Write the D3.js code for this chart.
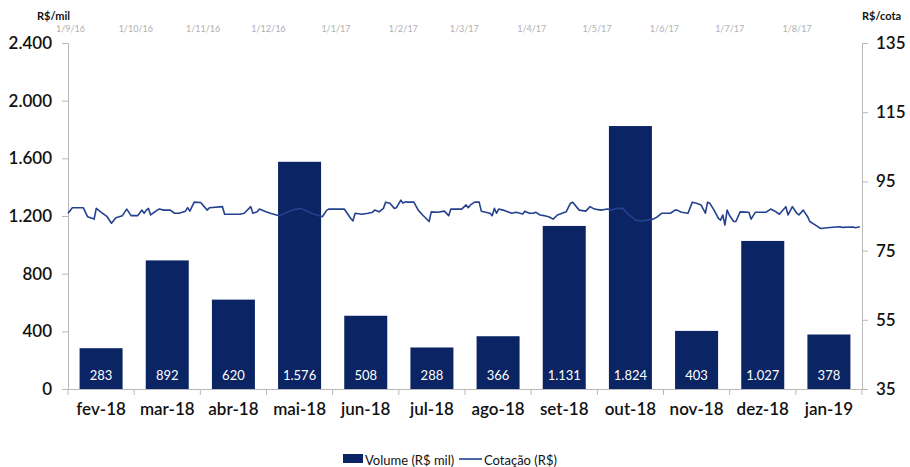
<!DOCTYPE html>
<html><head><meta charset="utf-8">
<script src="https://cdn.jsdelivr.net/npm/d3@7"></script>
<style>body{margin:0;background:#fff}svg{display:block}text{font-family:Lato,"Open Sans",sans-serif}</style>
</head><body><svg id="c" width="910" height="467"></svg>
<script>
const categories = ["fev-18","mar-18","abr-18","mai-18","jun-18","jul-18","ago-18","set-18","out-18","nov-18","dez-18","jan-19"];
const volume = [283,892,620,1576,508,288,366,1131,1824,403,1027,378];
const volumeLabels = ["283","892","620","1.576","508","288","366","1.131","1.824","403","1.027","378"];
const leftTicks = [0,400,800,1200,1600,2000,2400];
const leftTickLabels = ["0","400","800","1.200","1.600","2.000","2.400"];
const rightTicks = [35,55,75,95,115,135];
const topTickLabels = ["1/9/16","1/10/16","1/11/16","1/12/16","1/1/17","1/2/17","1/3/17","1/4/17","1/5/17","1/6/17","1/7/17","1/8/17"];
// Cotação: day offset from 1/9/16 and price
const cotacaoDias = [0,2,7,9,12,13,15,18,20,22,25,27,29,32,34,35,36,37,38,41,42,44,47,49,51,54,55,56,58,61,64,65,71,72,79,81,84,85,87,88,91,93,97,103,107,112,117,118,119,120,127,130,131,132,135,138,140,141,143,145,146,148,150,151,153,154,155,156,159,161,163,166,167,170,173,175,176,181,183,184,185,187,189,190,194,195,196,197,198,200,204,206,209,210,212,214,215,217,219,221,223,225,229,231,232,235,238,240,242,245,248,250,252,255,258,261,264,269,271,273,277,279,280,282,285,287,289,291,293,294,295,297,299,300,301,302,303,304,306,307,309,313,314,316,321,323,325,327,330,331,333,335,336,338,340,341,344,346,349,353,355,356,361,362,364];
const cotacaoValores = [85.8,87.4,87.4,84.8,84.1,87.2,86.2,84.8,82.9,84.5,85.1,87.0,85.1,85.1,86.7,85.8,86.7,87.2,85.3,86.7,87.0,86.7,86.7,85.8,85.8,86.4,87.4,86.4,89.0,88.9,86.7,87.4,87.7,85.5,85.5,85.8,87.7,85.8,86.2,87.0,86.2,85.8,85.1,86.7,87.2,85.8,84.8,85.8,86.7,87.0,87.0,84.3,83.6,85.8,85.5,85.8,86.1,86.7,86.2,87.2,89.0,88.7,87.2,87.4,89.6,88.7,89.1,89.0,89.0,86.7,85.3,83.4,86.2,86.1,86.4,85.1,87.0,87.0,88.2,87.4,88.2,89.0,89.0,86.4,85.8,85.1,87.2,85.8,87.0,86.7,85.8,86.1,85.6,86.4,85.8,85.8,86.1,85.3,85.1,84.8,84.1,85.3,86.2,88.7,89.0,86.7,86.4,87.7,87.0,86.7,87.0,86.7,87.2,87.2,85.3,83.8,83.6,84.1,84.8,85.8,85.8,86.7,86.7,86.1,85.8,89.0,88.7,88.2,85.8,89.0,88.7,86.7,84.3,83.8,85.3,82.4,86.7,85.3,83.4,83.4,86.2,86.1,84.1,86.1,86.1,87.0,86.4,85.5,87.7,85.3,87.7,85.8,85.3,86.7,84.8,83.4,82.2,81.4,81.6,81.8,81.9,81.7,81.8,81.6,81.9];

const svg = d3.select("#c");
const L = 68, R = 862, T = 43, B = 389;
const barColor = "#0b2463", lineColor = "#24418f", axisColor = "#b8b8b8";

const x = d3.scaleBand().domain(categories).range([L, R]).paddingInner(0.35).paddingOuter(0.175);
const xb = d3.scaleBand().domain(categories).range([L, R]);
const yL = d3.scaleLinear().domain([0, 2400]).range([B, T]);
const yR = d3.scaleLinear().domain([35, 135]).range([B, T]);
const start = new Date(2016, 8, 1), end = new Date(2017, 8, 1);
const xt = d3.scaleTime().domain([start, end]).range([L, R]);

// bars
svg.append("g").selectAll("rect").data(volume).join("rect")
  .attr("x", (d, i) => x(categories[i])).attr("width", x.bandwidth())
  .attr("y", d => yL(d)).attr("height", d => B - yL(d)).attr("fill", barColor);

// bar labels
svg.append("g").selectAll("text").data(volumeLabels).join("text")
  .attr("x", (d, i) => x(categories[i]) + x.bandwidth() / 2).attr("y", B - 9)
  .attr("text-anchor", "middle").attr("fill", "#fff").attr("font-size", 13).text(d => d);

// left axis
const gl = svg.append("g").attr("transform", `translate(${L},0)`)
  .call(d3.axisLeft(yL).tickValues(leftTicks).tickFormat((d, i) => leftTickLabels[i]).tickSize(6).tickPadding(10));
gl.select(".domain").attr("stroke", axisColor);
gl.selectAll(".tick line").attr("stroke", axisColor);
gl.selectAll("text").attr("font-size", 17).attr("font-weight", 600).attr("fill", "#111").style("font-family", "Lato");

// right axis
const gr = svg.append("g").attr("transform", `translate(${R},0)`)
  .call(d3.axisRight(yR).tickValues(rightTicks).tickSize(6).tickPadding(8));
gr.select(".domain").attr("stroke", axisColor);
gr.selectAll(".tick line").attr("stroke", axisColor);
gr.selectAll("text").attr("font-size", 17).attr("font-weight", 600).attr("fill", "#111").style("font-family", "Lato");

// bottom axis
const gb = svg.append("g").attr("transform", `translate(0,${B})`)
  .call(d3.axisBottom(xb).tickSize(0).tickPadding(14));
gb.select(".domain").attr("stroke", axisColor);
gb.selectAll("text").attr("font-size", 17).attr("font-weight", 600).attr("fill", "#111").style("font-family", "Lato");
gb.append("g").selectAll("line").data(categories.concat([null])).join("line")
  .attr("x1", (d, i) => L + i * xb.step()).attr("x2", (d, i) => L + i * xb.step())
  .attr("y1", 0).attr("y2", 6).attr("stroke", axisColor);

// top date axis
const topTicks = d3.timeMonth.range(start, end);
const gt = svg.append("g").attr("transform", `translate(0,${T})`)
  .call(d3.axisTop(xt).tickValues(topTicks).tickFormat((d, i) => topTickLabels[i]).tickSize(0).tickPadding(11));
gt.select(".domain").remove();
gt.selectAll("text").attr("font-size", 9).attr("fill", "#b0b0b0").attr("dx", 2);

// line
const pts = cotacaoDias.map((d, i) => [d3.timeDay.offset(start, d), cotacaoValores[i]]);
svg.append("path").datum(pts)
  .attr("fill", "none").attr("stroke", lineColor).attr("stroke-width", 1.6).attr("stroke-linejoin", "round")
  .attr("d", d3.line().x(d => xt(d[0])).y(d => yR(d[1])));

// axis unit titles
svg.append("text").attr("x", 37).attr("y", 20).attr("font-size", 11).attr("font-weight", 700).attr("fill", "#111").text("R$/mil");
svg.append("text").attr("x", 862).attr("y", 20).attr("font-size", 11).attr("font-weight", 700).attr("fill", "#111").text("R$/cota");

// legend
const lg = svg.append("g").attr("transform", "translate(0,461)");
lg.append("rect").attr("x", 343).attr("y", -7).attr("width", 20).attr("height", 9).attr("fill", barColor);
lg.append("text").attr("x", 365).attr("y", 4).attr("font-size", 13).attr("fill", "#111").text("Volume (R$ mil)");
lg.append("line").attr("x1", 459).attr("x2", 482).attr("y1", -2).attr("y2", -2).attr("stroke", lineColor).attr("stroke-width", 1.6);
lg.append("text").attr("x", 484).attr("y", 4).attr("font-size", 13).attr("fill", "#111").text("Cotação (R$)");
</script></body></html>
